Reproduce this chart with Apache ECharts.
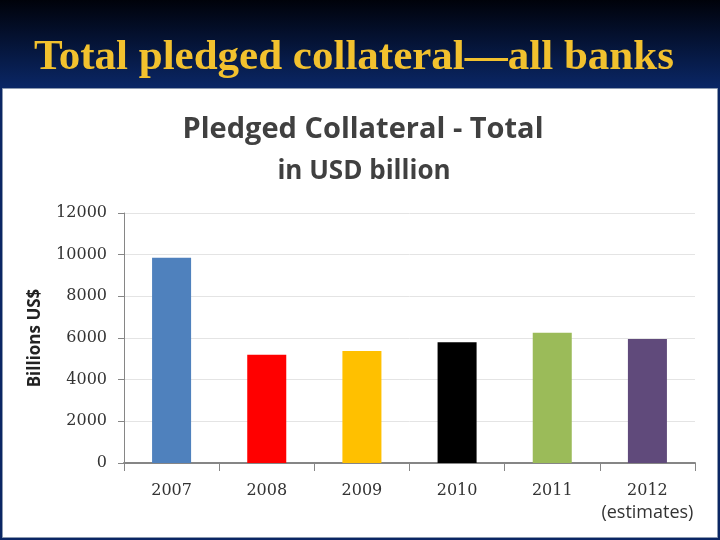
<!DOCTYPE html>
<html>
<head>
<meta charset="utf-8">
<script src="https://cdn.jsdelivr.net/npm/echarts@6/dist/echarts.min.js"></script>
<style>html,body{margin:0;padding:0;}#c{width:720px;height:540px;}</style>
</head>
<body>
<div id="c"></div>
<script>
const categories = ['2007', '2008', '2009', '2010', '2011', '2012'];
const values = [9850, 5200, 5380, 5800, 6250, 5950];
const barColors = ['#4F81BD', '#FF0000', '#FFC000', '#000000', '#9BBB59', '#604A7B'];
const yTicks = { min: 0, max: 12000, interval: 2000 };

const chart = echarts.init(document.getElementById('c'));
chart.setOption({
  backgroundColor: {
    type: 'linear', x: 0, y: 0, x2: 0, y2: 1,
    colorStops: [
      { offset: 0, color: '#00020a' },
      { offset: 0.16, color: '#0a2664' },
      { offset: 1, color: '#0a2664' }
    ]
  },
  graphic: [
    { type: 'rect', z: -1, shape: { x: 2.5, y: 88.5, width: 715, height: 449 },
      style: { fill: '#ffffff', stroke: '#8c9ab0', lineWidth: 1 } }
  ],
  title: [
    { text: 'Total pledged collateral\u2014all banks', left: 29, top: 31,
      textStyle: { fontFamily: 'Liberation Serif', fontWeight: 'bold', fontSize: 43, color: '#F2C12E' } },
    { text: 'Pledged Collateral - Total', left: 358, textAlign: 'center', top: 110,
      textStyle: { fontFamily: 'Open Sans', fontWeight: 'bold', fontSize: 29, color: '#404040' } },
    { text: 'in USD billion', left: 359, textAlign: 'center', top: 154,
      textStyle: { fontFamily: 'Open Sans', fontWeight: 'bold', fontSize: 26, color: '#404040' } }
  ],
  grid: { left: 124, right: 25, top: 213, bottom: 77 },
  xAxis: {
    type: 'category',
    data: categories,
    axisLine: { lineStyle: { color: '#868686', width: 2 } },
    axisTick: { show: true, length: 8, lineStyle: { color: '#868686' } },
    axisLabel: {
      interval: 0,
      margin: 20, color: '#333333', fontFamily: 'DejaVu Serif', fontSize: 16,
      formatter: function (v) { return v === '2012' ? v + '\n{e|(estimates)}' : v; },
      rich: { e: { fontFamily: 'Open Sans', fontSize: 18, color: '#333333', lineHeight: 28 } }
    }
  },
  yAxis: {
    type: 'value',
    min: yTicks.min, max: yTicks.max, interval: yTicks.interval,
    name: 'Billions US$',
    nameLocation: 'middle',
    nameGap: 80,
    nameTextStyle: { fontFamily: 'Open Sans', fontWeight: 'bold', fontSize: 17, color: '#222222' },
    axisLine: { show: true, lineStyle: { color: '#868686', width: 1 } },
    axisTick: { show: true, length: 6, lineStyle: { color: '#868686' } },
    splitLine: { lineStyle: { color: '#e4e4e4' } },
    axisLabel: { margin: 17, color: '#333333', fontFamily: 'DejaVu Serif', fontSize: 16,
      formatter: function (v) { return String(v); } }
  },
  series: [{
    type: 'bar',
    data: values.map((v, i) => ({ value: v, itemStyle: { color: barColors[i] } })),
    barWidth: '41%'
  }]
});
</script>
</body>
</html>
